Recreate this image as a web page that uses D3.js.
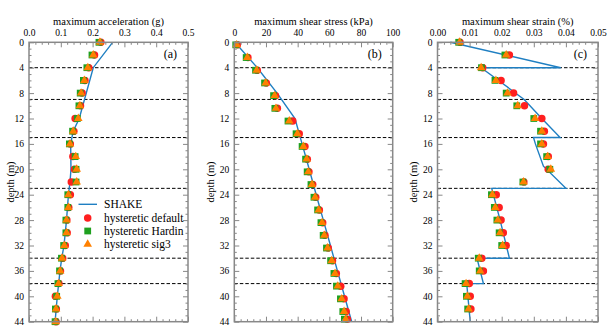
<!DOCTYPE html>
<html><head><meta charset="utf-8">
<script src="https://cdn.jsdelivr.net/npm/d3@7"></script>
<style>body{margin:0;background:#fff}svg text{font-family:"Liberation Serif","DejaVu Serif",serif !important;fill:#000}</style>
</head><body>
<script>
// ---------- data ----------
const layerBoundaries = [4, 9, 15, 23, 34, 38];
const depthTicks = [0,4,8,12,16,20,24,28,32,36,40,44];
const seriesNames = ["SHAKE","hysteretic default","hysteretic Hardin","hysteretic sig3"];

// (a) maximum acceleration (g)
const accDepth = [0,2,4,6,8,10,12,14,16,18,20,22,24,26,28,30,32,34,36,38,40,42,44];
const accDefault = [0.226,0.206,0.188,0.176,0.167,0.162,0.145,0.141,0.130,0.138,0.143,0.133,0.130,0.125,0.119,0.120,0.114,0.106,0.099,0.094,0.083,0.086,0.085];
const accHardin  = [0.220,0.198,0.182,0.171,0.161,0.157,0.152,0.137,0.127,0.145,0.148,0.148,0.122,0.122,0.116,0.116,0.109,0.102,0.096,0.091,0.087,0.083,0.082];
const accSig3    = [0.223,0.202,0.185,0.174,0.164,0.160,0.155,0.139,0.129,0.147,0.150,0.150,0.124,0.124,0.118,0.118,0.111,0.104,0.098,0.093,0.089,0.085,0.084];
const accShakeDepth = [0,4,12,14,16,20,22,24,28,32,34,36,40,44];
const accShake      = [0.263,0.202,0.158,0.139,0.131,0.132,0.129,0.124,0.118,0.110,0.103,0.0975,0.089,0.082];

// (b) maximum shear stress (kPa)
const stressDepth = [0.4,2.4,4.4,6.4,8.4,10.4,12.4,14.4,16.4,18.4,20.4,22.4,24.4,26.4,28.4,30.4,32.4,34.4,36.4,38.4,40.4,42.4,43.6];
const stressDefault = [1.9,8.6,14.5,20.2,26.0,27.2,36.9,41.0,44.6,46.1,47.1,49.5,51.4,53.7,55.8,57.2,59.3,62.0,64.4,67.2,69.3,70.6,71.4];
const stressHardin  = [0.9,7.5,13.4,19.1,24.8,25.6,33.9,39.0,42.8,45.0,46.0,48.4,50.3,52.6,54.7,56.1,58.2,60.8,62.9,64.5,67.0,68.5,69.5];
const stressSig3    = [1.5,8.2,14.1,19.8,25.5,26.3,34.7,39.8,43.6,45.7,46.7,49.1,51.0,53.3,55.4,56.8,58.9,61.5,63.6,65.3,67.8,69.3,70.3];
const stressShakeDepth = [0,4,8,12,16,20,24,28,32,36,40,44];
const stressShake      = [0.4,14.5,27.0,38.3,42.8,47.3,51.7,56.2,60.7,65.1,69.6,74.1];

// (c) maximum shear strain (%)
const strainDepth = [0,2,4,6,8,10,12,14,16,18,20,22,24,26,28,30,32,34,36,38,40,42];
const strainDefault = [0.0070,0.0224,0.0141,0.0198,0.0237,0.0271,0.0325,0.0333,0.0330,0.0345,0.0345,0.0269,0.0183,0.0192,0.0198,0.0205,0.0214,0.0138,0.0143,0.0099,0.0102,0.0104];
const strainHardin  = [0.0066,0.0210,0.0137,0.0179,0.0214,0.0247,0.0300,0.0321,0.0321,0.0340,0.0350,0.0266,0.0168,0.0177,0.0185,0.0192,0.0200,0.0127,0.0130,0.0086,0.0090,0.0094];
const strainSig3    = [0.0069,0.0214,0.0136,0.0182,0.0218,0.0250,0.0304,0.0325,0.0325,0.0343,0.0353,0.0268,0.0171,0.0180,0.0188,0.0195,0.0203,0.0130,0.0133,0.0089,0.0093,0.0097];
const strainShakeDepth = [0,4,4,9,12,15,15,16,19.5,23,23,28,34,34,38,38,44];
const strainShake      = [0.0040,0.0384,0.0136,0.0270,0.0325,0.0382,0.0299,0.0305,0.0330,0.0400,0.0169,0.0195,0.0224,0.0123,0.0143,0.0091,0.0102];

// ---------- layout ----------
const W = 609, H = 333;
const yTop = 42.3, yBot = 321.7;
const FONT = "'Liberation Serif','DejaVu Serif',serif";
const colors = {line:"#1f7fc2", def:"#ff1f1f", hardin:"#1fa01f", sig3:"#ff8000"};
const frameColor = "#888";

const panels = [
  {x0:29, x1:188, domain:[0,0.5], major:0.1, minor:0.02, fmt:d3.format(".1f"), title:"maximum acceleration (g)", label:"(a)",
   depth:accDepth, def:accDefault, hard:accHardin, sig:accSig3, sDepth:accShakeDepth, shake:accShake, ylab:10},
  {x0:234.3, x1:392.7, domain:[0,100], major:20, minor:4, fmt:d3.format("d"), title:"maximum shear stress (kPa)", label:"(b)",
   depth:stressDepth, def:stressDefault, hard:stressHardin, sig:stressSig3, sDepth:stressShakeDepth, shake:stressShake, ylab:210},
  {x0:437.5, x1:598, domain:[0,0.05], major:0.01, minor:0.002, fmt:d3.format(".2f"), title:"maximum shear strain (%)", label:"(c)",
   depth:strainDepth, def:strainDefault, hard:strainHardin, sig:strainSig3, sDepth:strainShakeDepth, shake:strainShake, ylab:413}
];

const svg = d3.select("body").append("svg").attr("width", W).attr("height", H)
  .attr("font-family", FONT);
const y = d3.scaleLinear().domain([0,44]).range([yTop, yBot]);

const circle = d3.symbol().type(d3.symbolCircle).size(44)();
const square = d3.symbol().type(d3.symbolSquare).size(46)();
const tri = d3.symbol().type(d3.symbolTriangle).size(32)();

function range(a,b,s){const r=[];for(let v=a;v<=b+1e-9;v+=s)r.push(+v.toFixed(6));return r;}

panels.forEach(p => {
  const x = d3.scaleLinear().domain(p.domain).range([p.x0, p.x1]);
  const g = svg.append("g");
  const majors = range(p.domain[0], p.domain[1], p.major);
  const minors = range(p.domain[0], p.domain[1], p.minor).filter(v => !majors.some(m => Math.abs(m-v) < 1e-9));
  const yMinors = range(0,44,1).filter(v => v % 4 !== 0);

  g.selectAll("line.layer").data(layerBoundaries).join("line")
    .attr("x1", p.x0).attr("x2", p.x1).attr("y1", d => y(d)).attr("y2", d => y(d))
    .attr("stroke", "#000").attr("stroke-width", 1).attr("stroke-dasharray", "3.5,2");

  const pts = p.sDepth.map((d,i) => [p.shake[i], d]);
  g.append("path").datum(pts)
    .attr("d", d3.line().x(d => x(d[0])).y(d => y(d[1])))
    .attr("fill","none").attr("stroke", colors.line).attr("stroke-width", 1.4);

  const mk = (vals, path, col) => g.append("g").selectAll("path").data(vals).join("path")
    .attr("d", path).attr("fill", col)
    .attr("transform", (v,i) => `translate(${x(v)},${y(p.depth[i])})`);
  mk(p.def, circle, colors.def);
  mk(p.hard, square, colors.hardin);
  mk(p.sig, tri, colors.sig3);

  const styleAxis = sel => { sel.attr("font-family", FONT).attr("font-size", 9.5);
    sel.select(".domain").remove(); sel.selectAll(".tick line").attr("stroke", frameColor).attr("stroke-width",1);
    sel.selectAll("text").attr("fill","#000"); };
  g.append("g").attr("transform", `translate(0,${yTop})`)
    .call(d3.axisTop(x).tickValues(majors).tickSize(-5).tickPadding(6).tickFormat(p.fmt)).call(styleAxis);
  g.append("g").attr("transform", `translate(0,${yTop})`)
    .call(d3.axisTop(x).tickValues(minors).tickSize(-2.5).tickFormat("")).call(styleAxis);
  g.append("g").attr("transform", `translate(0,${yBot})`)
    .call(d3.axisBottom(x).tickValues(majors).tickSize(-5).tickFormat("")).call(styleAxis);
  g.append("g").attr("transform", `translate(0,${yBot})`)
    .call(d3.axisBottom(x).tickValues(minors).tickSize(-2.5).tickFormat("")).call(styleAxis);
  g.append("g").attr("transform", `translate(${p.x0},0)`)
    .call(d3.axisLeft(y).tickValues(depthTicks).tickSize(-5).tickPadding(5).tickFormat(d3.format("d"))).call(styleAxis);
  g.append("g").attr("transform", `translate(${p.x0},0)`)
    .call(d3.axisLeft(y).tickValues(yMinors).tickSize(-2.5).tickFormat("")).call(styleAxis);
  g.append("g").attr("transform", `translate(${p.x1},0)`)
    .call(d3.axisRight(y).tickValues(depthTicks).tickSize(-5).tickFormat("")).call(styleAxis);
  g.append("g").attr("transform", `translate(${p.x1},0)`)
    .call(d3.axisRight(y).tickValues(yMinors).tickSize(-2.5).tickFormat("")).call(styleAxis);

  g.append("rect").attr("x", p.x0).attr("y", yTop).attr("width", p.x1 - p.x0).attr("height", yBot - yTop)
    .attr("fill","none").attr("stroke", frameColor).attr("stroke-width", 1.5);

  g.append("text").attr("x", (p.x0+p.x1)/2).attr("y", 25).attr("text-anchor","middle")
    .attr("font-family", FONT).attr("font-size", 10.5).text(p.title);
  g.append("text").attr("x", p.x1 - 11).attr("y", 58).attr("text-anchor","end")
    .attr("font-family", FONT).attr("font-size", 12).text(p.label);
  g.append("text").attr("transform", `translate(${p.ylab},${(yTop+yBot)/2}) rotate(-90)`)
    .attr("text-anchor","middle").attr("dy","0.35em").attr("font-family", FONT).attr("font-size", 10.5).text("depth (m)");
});

const leg = svg.append("g");
const legY = [204.3, 218, 231, 244.3];
const lx0 = 78.5, lx1 = 97, lmx = 87.7, ltx = 104;
leg.append("line").attr("x1", lx0).attr("x2", lx1).attr("y1", legY[0]).attr("y2", legY[0])
  .attr("stroke", colors.line).attr("stroke-width", 1.4);
leg.append("path").attr("d", circle).attr("fill", colors.def).attr("transform", `translate(${lmx},${legY[1]})`);
leg.append("path").attr("d", square).attr("fill", colors.hardin).attr("transform", `translate(${lmx},${legY[2]})`);
leg.append("path").attr("d", tri).attr("fill", colors.sig3).attr("transform", `translate(${lmx},${legY[3]})`);
leg.selectAll("text").data(seriesNames).join("text")
  .attr("x", ltx).attr("y", (d,i) => legY[i]).attr("dy","0.35em")
  .attr("font-family", FONT).attr("font-size", 11.5).text(d => d);
</script>
</body></html>
